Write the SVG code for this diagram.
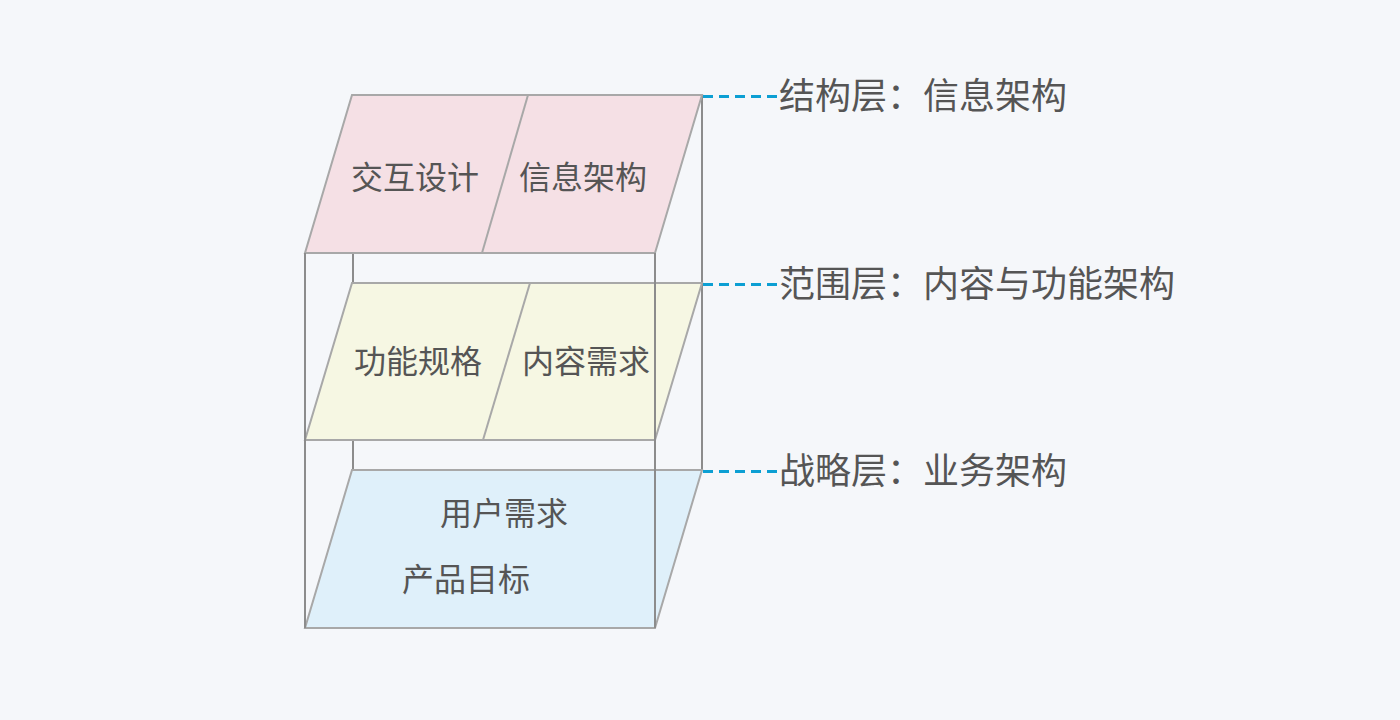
<svg xmlns="http://www.w3.org/2000/svg" width="1400" height="720" viewBox="0 0 1400 720">
<style>
.bg{fill:#f5f7fa}
.face{stroke:#a8a8a8;stroke-width:2}
.edge{stroke:#8c8c8c;stroke-width:2;fill:none}
.div{stroke:#a8a8a8;stroke-width:2;fill:none}
.lbl{font-family:"Noto Sans CJK SC","Noto Sans",sans-serif;font-size:32px;fill:#555;text-anchor:middle;dominant-baseline:central}
.side{font-family:"Noto Sans CJK SC","Noto Sans",sans-serif;font-size:36px;fill:#555;dominant-baseline:central}
.conn{stroke:#0c9fd3;stroke-width:3;stroke-dasharray:10,6;fill:none}
</style>
<rect class="bg" x="0" y="0" width="1400" height="720"/>
<g id="back-edges">
<line class="edge" x1="353" y1="253" x2="353" y2="470"/>
<line class="edge" x1="702" y1="95" x2="702" y2="470"/>
</g>
<g id="layer-structure">
<polygon class="face" fill="#f5e0e5" points="352,95 702,95 655,253 305,253"/>
<line class="div" x1="528" y1="95" x2="482" y2="253"/>
<text class="lbl" x="415" y="175">交互设计</text>
<text class="lbl" x="583" y="175">信息架构</text>
</g>
<g id="layer-scope">
<polygon class="face" fill="#f6f7e3" points="352,283 702,283 655,440 305,440"/>
<line class="div" x1="530" y1="283" x2="483" y2="440"/>
<text class="lbl" x="418" y="359">功能规格</text>
<text class="lbl" x="586" y="359">内容需求</text>
</g>
<g id="layer-strategy">
<polygon class="face" fill="#dff0fa" points="352,470 702,470 655,628 305,628"/>
<text class="lbl" x="504" y="511">用户需求</text>
<text class="lbl" x="466" y="577">产品目标</text>
</g>
<g id="front-edges">
<line class="edge" x1="305" y1="253" x2="305" y2="628"/>
<line class="edge" x1="655" y1="253" x2="655" y2="628"/>
</g>
<g id="connectors">
<line class="conn" x1="703" y1="96.5" x2="778" y2="96.5"/>
<line class="conn" x1="703" y1="284.5" x2="778" y2="284.5"/>
<line class="conn" x1="703" y1="471.5" x2="778" y2="471.5"/>
</g>
<g id="label-structure"><text class="side" x="779" y="93">结构层：信息架构</text></g>
<g id="label-scope"><text class="side" x="779" y="281">范围层：内容与功能架构</text></g>
<g id="label-strategy"><text class="side" x="779" y="468">战略层：业务架构</text></g>
</svg>
